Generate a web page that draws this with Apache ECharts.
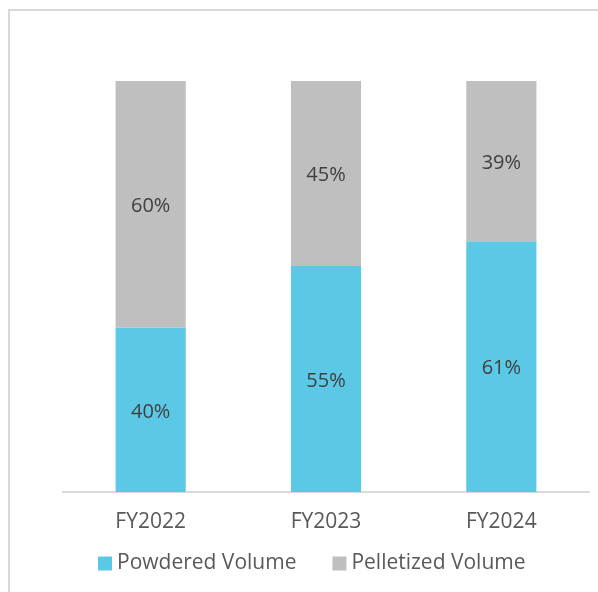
<!DOCTYPE html>
<html>
<head>
<meta charset="utf-8">
<script src="https://cdn.jsdelivr.net/npm/echarts@6/dist/echarts.min.js"></script>
<style>
  html, body { margin: 0; padding: 0; background: #fff; }
  #chart { width: 598px; height: 592px; }
</style>
</head>
<body>
<div id="chart"></div>
<script>
// data
var years = ['FY2022', 'FY2023', 'FY2024'];
var powdered = [40, 55, 61];
var pelletized = [60, 45, 39];

var myChart = echarts.init(document.getElementById('chart'));

var labelStyle = {
    show: true,
    position: 'inside',
    formatter: '{c}%',
    color: '#404040',
    fontFamily: 'Open Sans',
    fontSize: 20,
    offset: [0, 2]
};

myChart.setOption({
    animation: false,
    textStyle: { fontFamily: 'Open Sans' },
    // frame lines at top and left
    graphic: [{
        type: 'polyline',
        shape: { points: [[9, 592], [9, 10], [598, 10]] },
        style: { stroke: '#d9d9d9', lineWidth: 2, fill: null }
    }],
    grid: { left: 63, right: 9, top: 81, bottom: 100 },
    legend: {
        left: 93,
        top: 548,
        itemWidth: 14,
        itemHeight: 14,
        itemGap: 36,
        icon: 'rect',
        textStyle: { color: '#595959', fontSize: 21, fontFamily: 'Open Sans' },
        data: ['Powdered Volume', 'Pelletized Volume']
    },
    xAxis: {
        type: 'category',
        data: years,
        axisLine: { lineStyle: { color: '#d9d9d9', width: 2 } },
        axisTick: { show: false },
        axisLabel: { color: '#595959', fontSize: 21, margin: 20 }
    },
    yAxis: {
        type: 'value',
        min: 0,
        max: 100,
        show: false,
        splitLine: { show: false }
    },
    series: [{
        name: 'Powdered Volume',
        type: 'bar',
        stack: 'vol',
        barWidth: '40%',
        itemStyle: { color: '#5bc9e5' },
        label: labelStyle,
        data: powdered
    }, {
        name: 'Pelletized Volume',
        type: 'bar',
        stack: 'vol',
        itemStyle: { color: '#bfbfbf' },
        label: labelStyle,
        data: pelletized
    }]
});
</script>
</body>
</html>
